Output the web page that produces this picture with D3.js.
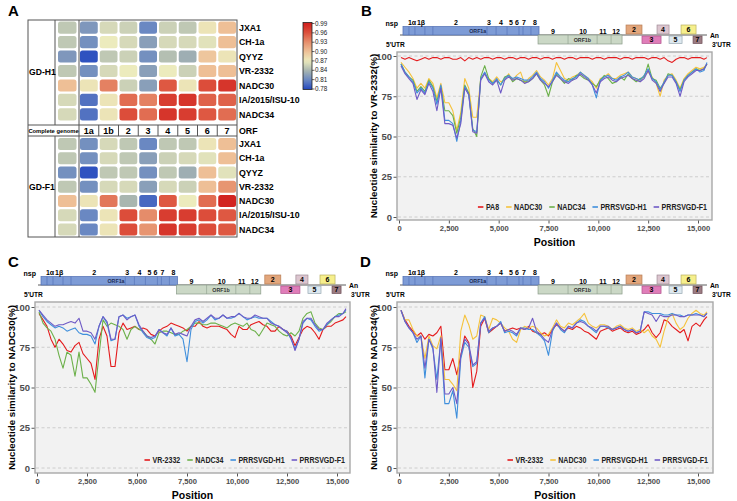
<!DOCTYPE html>
<html>
<head>
<meta charset="utf-8">
<script src="https://cdn.jsdelivr.net/npm/d3@7"></script>
<style>
  body { margin: 0; background: #fff; }
  svg { font-family: Arial, "Liberation Sans", sans-serif; }
</style>
</head>
<body>
<svg id="fig" width="737" height="501"></svg>
<script>
// ---------- heatmap data (panel A) ----------
var strains = ["JXA1", "CH-1a", "QYYZ", "VR-2332", "NADC30", "IA/2015/ISU-10", "NADC34"];
var orfs = ["1a", "1b", "2", "3", "4", "5", "6", "7"];
var h1Genome = [0.85, 0.85, 0.82, 0.85, 0.90, 0.86, 0.86];
var h1Orf = [
  [0.82, 0.86, 0.855, 0.81, 0.855, 0.85, 0.875, 0.90],
  [0.815, 0.87, 0.86, 0.825, 0.86, 0.86, 0.865, 0.90],
  [0.785, 0.85, 0.855, 0.815, 0.845, 0.835, 0.895, 0.875],
  [0.815, 0.86, 0.87, 0.825, 0.87, 0.855, 0.90, 0.90],
  [0.875, 0.935, 0.855, 0.825, 0.955, 0.875, 0.96, 0.975],
  [0.80, 0.875, 0.945, 0.935, 0.97, 0.975, 0.95, 0.95],
  [0.80, 0.875, 0.96, 0.945, 0.975, 0.97, 0.955, 0.945]
];
var f1Genome = [0.85, 0.85, 0.815, 0.85, 0.90, 0.86, 0.86];
var f1Orf = [
  [0.815, 0.86, 0.85, 0.81, 0.85, 0.85, 0.875, 0.90],
  [0.815, 0.86, 0.85, 0.825, 0.855, 0.86, 0.865, 0.90],
  [0.785, 0.85, 0.85, 0.815, 0.85, 0.835, 0.90, 0.865],
  [0.815, 0.86, 0.86, 0.825, 0.86, 0.855, 0.90, 0.925],
  [0.875, 0.94, 0.84, 0.795, 0.955, 0.87, 0.945, 0.985],
  [0.81, 0.875, 0.96, 0.93, 0.97, 0.97, 0.96, 0.955],
  [0.81, 0.875, 0.96, 0.925, 0.975, 0.97, 0.96, 0.955]
];
var legendTicks = [0.99, 0.96, 0.93, 0.90, 0.87, 0.84, 0.81, 0.78];

// ---------- similarity plot data (panels B, C, D) ----------
var positions = [100, 300, 500, 700, 900, 1100, 1300, 1500, 1700, 1900, 2100, 2300, 2500, 2700, 2900, 3100,
  3300, 3500, 3700, 3900, 4100, 4300, 4500, 4700, 4900, 5100, 5300, 5500, 5700, 5900, 6100, 6300, 6500,
  6700, 6900, 7100, 7300, 7500, 7700, 7900, 8100, 8300, 8500, 8700, 8900, 9100, 9300, 9500, 9700, 9900,
  10100, 10300, 10500, 10700, 10900, 11100, 11300, 11500, 11700, 11900, 12100, 12300, 12500, 12700,
  12900, 13100, 13300, 13500, 13700, 13900, 14100, 14300, 14500, 14700, 14900, 15100, 15300, 15450];

var bPA8 = [99, 98, 99, 98, 97, 98, 99, 98, 99, 99, 98, 99, 99, 98, 98, 99, 97, 99, 98, 99, 98, 99, 99, 98, 99, 99,
  98, 99, 99, 98, 99, 99, 98, 99, 99, 98, 99, 99, 98, 99, 99, 98, 99, 99, 98, 99, 99, 99, 98, 99, 99, 98,
  99, 99, 99, 98, 99, 99, 98, 99, 99, 99, 98, 99, 99, 98, 99, 97, 96, 98, 99, 99, 98, 99, 99, 99, 98, 99];
var bNADC30 = [96, 93, 90, 86, 80, 83, 80, 86, 83, 74, 83, 71, 71, 66, 54, 65, 86, 80, 62, 62, 86, 89, 86, 84, 87, 84,
  85, 89, 85, 88, 90, 83, 86, 88, 91, 87, 85, 82, 86, 96, 91, 86, 85, 87, 88, 90, 88, 86, 84, 80, 86, 87,
  89, 86, 86, 88, 89, 90, 87, 86, 84, 88, 90, 87, 83, 75, 85, 88, 89, 85, 80, 86, 89, 91, 93, 92, 93, 95];
var bNADC34 = [95, 90, 87, 85, 78, 81, 78, 85, 81, 72, 81, 66, 66, 63, 52, 62, 82, 77, 55, 50, 87, 94, 86, 83, 85, 82,
  87, 88, 84, 86, 85, 84, 84, 86, 89, 85, 82, 75, 84, 89, 86, 83, 86, 85, 88, 88, 86, 85, 83, 81, 85, 88,
  86, 83, 84, 87, 85, 89, 86, 84, 86, 87, 95, 86, 85, 80, 83, 89, 88, 84, 79, 85, 88, 90, 92, 91, 92, 95];
var bGDH1 = [95, 90, 87, 84, 77, 80, 77, 84, 80, 70, 82, 60, 60, 58, 47, 60, 81, 76, 54, 53, 86, 90, 85, 83, 86, 82,
  86, 88, 86, 87, 86, 85, 85, 87, 90, 86, 84, 80, 85, 90, 87, 85, 84, 86, 87, 90, 88, 86, 82, 74, 85, 87,
  88, 86, 85, 87, 88, 90, 87, 86, 85, 88, 92, 86, 84, 79, 84, 88, 88, 84, 78, 85, 88, 90, 92, 90, 91, 96];
var bGDF1 = [94, 89, 86, 83, 73, 79, 76, 83, 78, 66, 80, 58, 58, 57, 49, 58, 80, 76, 53, 52, 85, 89, 84, 82, 85, 77,
  85, 87, 85, 86, 85, 83, 84, 86, 89, 85, 83, 81, 84, 88, 86, 84, 83, 85, 86, 89, 87, 85, 82, 77, 84, 86,
  87, 85, 84, 86, 87, 88, 86, 85, 84, 86, 91, 85, 83, 78, 83, 87, 87, 83, 75, 84, 87, 89, 91, 91, 92, 95];

var cVR2332 = [96, 92, 88, 80, 75, 80, 77, 73, 72, 76, 78, 71, 68, 65, 55, 80, 88, 82, 63, 63, 84, 90, 86, 87, 88, 86,
  87, 86, 83, 82, 85, 87, 88, 90, 89, 88, 87, 85, 88, 88, 91, 88, 87, 88, 88, 88, 87, 86, 83, 81, 88, 86,
  86, 89, 90, 91, 89, 88, 85, 85, 88, 86, 85, 82, 76, 81, 86, 88, 87, 84, 80, 86, 88, 88, 90, 91, 92, 94];
var cNADC34 = [97, 90, 87, 85, 80, 70, 62, 72, 70, 57, 72, 56, 56, 52, 47, 70, 92, 88, 90, 89, 88, 86, 80, 86, 88, 86,
  85, 82, 80, 77, 84, 85, 85, 84, 83, 83, 85, 86, 88, 90, 90, 89, 89, 90, 90, 89, 88, 87, 89, 90, 89, 88,
  90, 86, 85, 82, 86, 90, 89, 88, 85, 83, 82, 84, 82, 85, 93, 96, 97, 90, 87, 86, 89, 91, 94, 96, 96, 97];
var cGDH1 = [98, 94, 91, 89, 87, 88, 87, 85, 86, 87, 84, 83, 83, 82, 77, 88, 94, 90, 79, 80, 94, 95, 93, 94, 95, 88,
  84, 81, 80, 81, 86, 84, 82, 87, 82, 83, 80, 66, 86, 91, 92, 90, 92, 95, 92, 93, 95, 93, 93, 94, 96, 94,
  92, 93, 94, 93, 93, 93, 91, 89, 88, 86, 85, 80, 74, 80, 90, 93, 92, 88, 85, 86, 89, 92, 94, 95, 96, 98];
var cGDF1 = [98, 95, 92, 90, 88, 89, 89, 90, 91, 90, 93, 85, 85, 84, 80, 88, 94, 91, 80, 80, 94, 95, 92, 94, 95, 89,
  85, 82, 81, 82, 86, 84, 83, 87, 83, 84, 83, 82, 88, 92, 93, 91, 93, 95, 93, 93, 95, 93, 94, 94, 96, 94,
  93, 93, 95, 94, 93, 93, 90, 89, 88, 86, 84, 81, 73, 80, 91, 93, 93, 89, 86, 86, 90, 92, 94, 94, 96, 99];

var dVR2332 = [98, 92, 88, 85, 82, 84, 80, 83, 82, 84, 88, 61, 61, 68, 58, 70, 82, 78, 50, 60, 88, 93, 84, 86, 88, 90,
  85, 86, 87, 86, 87, 86, 88, 85, 84, 83, 84, 82, 86, 89, 87, 85, 87, 86, 88, 87, 85, 84, 82, 80, 85, 86,
  87, 85, 86, 87, 85, 84, 85, 83, 84, 86, 89, 84, 81, 84, 92, 91, 88, 86, 84, 86, 79, 88, 90, 88, 92, 94];
var dNADC30 = [98, 92, 92, 86, 82, 82, 68, 82, 76, 74, 82, 55, 55, 52, 48, 85, 95, 89, 80, 82, 95, 94, 86, 93, 92, 90,
  87, 85, 80, 78, 86, 88, 87, 88, 87, 84, 82, 83, 87, 92, 88, 87, 90, 89, 91, 93, 96, 90, 88, 87, 89, 89,
  88, 86, 88, 89, 87, 86, 87, 85, 86, 84, 86, 82, 80, 75, 85, 93, 96, 90, 86, 88, 93, 96, 98, 96, 95, 97];
var dGDH1 = [98, 91, 87, 84, 78, 82, 56, 80, 74, 55, 80, 40, 40, 48, 31, 68, 78, 75, 63, 65, 90, 94, 84, 87, 88, 91,
  84, 85, 84, 82, 87, 87, 86, 86, 84, 82, 79, 70, 85, 90, 86, 84, 88, 87, 90, 92, 91, 88, 86, 84, 88, 88,
  87, 86, 87, 88, 86, 85, 86, 84, 85, 97, 97, 96, 96, 96, 95, 95, 96, 95, 95, 94, 95, 95, 96, 95, 94, 96];
var dGDF1 = [98, 91, 87, 84, 80, 82, 62, 80, 75, 47, 81, 46, 46, 50, 40, 70, 80, 77, 64, 66, 90, 93, 85, 87, 88, 90,
  85, 86, 85, 83, 87, 86, 87, 93, 85, 83, 80, 78, 86, 90, 87, 85, 88, 87, 90, 91, 90, 88, 87, 85, 88, 88,
  88, 86, 87, 88, 86, 85, 86, 84, 85, 97, 96, 95, 91, 95, 94, 94, 95, 95, 94, 94, 95, 95, 95, 95, 94, 96];

var xTicks = [0, 2500, 5000, 7500, 10000, 12500, 15000];
var yTicks = [0, 25, 50, 75, 100];

// ---------- genome map (nucleotide coordinates as drawn) ----------
var orf1a = [200, 7025];
var orf1aCuts = [500, 800, 1300, 1700, 4415, 4870, 5420, 6020, 6220, 6620];
var orf1b = [6975, 11190];
var orf1bCuts = [8480, 9940, 10640];
var nspTop = [["1\u03b1", 652], ["1\u03b2", 1104], ["2", 2860], ["3", 4515], ["4", 5117], ["5", 5619], ["6", 5920], ["7", 6272], ["8", 6824]];
var nspLow = [["9", 7727], ["10", 9232], ["11", 10236], ["12", 10888]];
var sOrfs = [
  {n: "2", s: 11390, e: 12190, up: true, c: "#e2a67c", k: "#b87d55"},
  {n: "3", s: 12190, e: 13146, up: false, c: "#e07db9", k: "#b0548c"},
  {n: "4", s: 12945, e: 13548, up: true, c: "#dcc5cf", k: "#a08c96"},
  {n: "5", s: 13548, e: 14200, up: false, c: "#dde8ef", k: "#98a8b2"},
  {n: "6", s: 14150, e: 14902, up: true, c: "#f6ef8c", k: "#b8b060"},
  {n: "7", s: 14752, e: 15203, up: false, c: "#9c7c83", k: "#6e5058"}
];

var svg = d3.select("#fig");
var FONT = "Arial, 'Liberation Sans', sans-serif";

function letter(t, x, y) {
  svg.append("text").attr("x", x).attr("y", y).attr("font-size", 15).attr("font-weight", "bold").text(t);
}
letter("A", 8, 16);
letter("B", 361, 16);
letter("C", 8, 267);
letter("D", 360, 267);

// ================= Panel A: heatmap =================
var heatColor = d3.scaleLinear()
  .domain([0.78, 0.81, 0.84, 0.87, 0.90, 0.93, 0.96, 0.99])
  .range(["#2347bf", "#6a88c2", "#a9b6b0", "#ecebbd", "#eebf96", "#e58c6a", "#dc4d3a", "#d01c1b"])
  .clamp(true);

var hm = {left: 28, right: 237, top: 20, bottom: 237, grp: 55, cg: 79, hdrTop: 125, hdrBot: 136};
var xOrf = d3.scaleBand().domain(orfs).range([hm.cg, hm.right]).paddingInner(0.1).paddingOuter(0.05);
var yTop = d3.scaleBand().domain(strains).range([21, 121]).paddingInner(0.16).paddingOuter(0.04);
var yBot = d3.scaleBand().domain(strains).range([137.5, 236]).paddingInner(0.16).paddingOuter(0.04);

var A = svg.append("g");

function heatBlock(yScale, genome, orfVals) {
  A.selectAll(null).data(strains).enter().append("rect")
    .attr("x", 58).attr("width", 18.5)
    .attr("y", function(d) { return yScale(d); })
    .attr("height", yScale.bandwidth())
    .attr("rx", 2.5)
    .attr("fill", function(d, i) { return heatColor(genome[i]); });
  strains.forEach(function(s, i) {
    A.selectAll(null).data(orfVals[i]).enter().append("rect")
      .attr("x", function(d, j) { return xOrf(orfs[j]); })
      .attr("width", xOrf.bandwidth())
      .attr("y", yScale(s))
      .attr("height", yScale.bandwidth())
      .attr("rx", 2.5)
      .attr("fill", function(d) { return heatColor(d); });
  });
  A.selectAll(null).data(strains).enter().append("text")
    .attr("x", 239)
    .attr("y", function(d) { return yScale(d) + yScale.bandwidth() / 2 + 3.2; })
    .attr("font-size", 8.8).attr("font-weight", "bold")
    .text(function(d) { return d; });
}
heatBlock(yTop, h1Genome, h1Orf);
heatBlock(yBot, f1Genome, f1Orf);

var lineCol = "#555";
A.append("rect").attr("x", hm.left).attr("y", hm.top).attr("width", hm.right - hm.left).attr("height", hm.bottom - hm.top)
  .attr("fill", "none").attr("stroke", lineCol).attr("stroke-width", 1);
A.append("line").attr("x1", hm.grp).attr("x2", hm.grp).attr("y1", hm.top).attr("y2", hm.hdrTop).attr("stroke", lineCol);
A.append("line").attr("x1", hm.grp).attr("x2", hm.grp).attr("y1", hm.hdrBot).attr("y2", hm.bottom).attr("stroke", lineCol);
A.append("line").attr("x1", hm.cg).attr("x2", hm.cg).attr("y1", hm.top).attr("y2", hm.bottom).attr("stroke", lineCol);
[hm.hdrTop, hm.hdrBot].forEach(function(yy) {
  A.append("line").attr("x1", hm.left).attr("x2", hm.right).attr("y1", yy).attr("y2", yy).attr("stroke", lineCol);
});
A.selectAll(null).data(orfs.slice(1)).enter().append("line")
  .attr("x1", function(d) { return xOrf(d) - xOrf.step() * xOrf.paddingInner() / 2; })
  .attr("x2", function(d) { return xOrf(d) - xOrf.step() * xOrf.paddingInner() / 2; })
  .attr("y1", hm.hdrTop).attr("y2", hm.hdrBot).attr("stroke", lineCol);
A.selectAll(null).data(orfs).enter().append("text")
  .attr("x", function(d) { return xOrf(d) + xOrf.bandwidth() / 2; })
  .attr("y", 134).attr("text-anchor", "middle").attr("font-size", 9).attr("font-weight", "bold")
  .text(function(d) { return d; });
A.append("text").attr("x", 53.5).attr("y", 132.8).attr("text-anchor", "middle")
  .attr("font-size", 5.8).attr("font-weight", "bold").text("Complete genome");
A.append("text").attr("x", 239).attr("y", 134).attr("font-size", 8.8).attr("font-weight", "bold").text("ORF");
A.append("text").attr("x", 29).attr("y", 74.5).attr("font-size", 8.6).attr("font-weight", "bold").text("GD-H1");
A.append("text").attr("x", 29).attr("y", 189.5).attr("font-size", 8.6).attr("font-weight", "bold").text("GD-F1");

// colour bar
var yLeg = d3.scaleLinear().domain([0.78, 0.99]).range([89, 23.5]);
var grad = svg.append("defs").append("linearGradient").attr("id", "hgrad")
  .attr("x1", 0).attr("x2", 0).attr("y1", 1).attr("y2", 0);
d3.range(0, 1.0001, 0.05).forEach(function(t) {
  grad.append("stop").attr("offset", t).attr("stop-color", heatColor(0.78 + t * 0.21));
});
A.append("rect").attr("x", 303).attr("y", 22.5).attr("width", 9).attr("height", 67)
  .attr("fill", "url(#hgrad)").attr("stroke", "#222").attr("stroke-width", 0.8);
A.selectAll(null).data(legendTicks).enter().append("line")
  .attr("x1", 312).attr("x2", 314.5)
  .attr("y1", function(d) { return yLeg(d); }).attr("y2", function(d) { return yLeg(d); })
  .attr("stroke", "#222").attr("stroke-width", 0.7);
A.selectAll(null).data(legendTicks).enter().append("text")
  .attr("x", 315).attr("y", function(d) { return yLeg(d) + 2.2; })
  .attr("font-size", 6.3).attr("fill", "#222")
  .text(function(d) { return d.toFixed(2); });

// ================= Panels B, C, D =================
var palette = {red: "#e41a1c", yellow: "#f5c23c", green: "#6cb04a", blue: "#3f8fdc", purple: "#6f5bc6"};

function drawGenome(g, x, top) {
  g.append("text").attr("x", x(0) - 1).attr("y", top - 26.5).attr("text-anchor", "end")
    .attr("font-size", 7).attr("font-weight", "bold").text("nsp");
  g.append("text").attr("x", x(0) - 13).attr("y", top - 5).attr("font-size", 6.6).attr("font-weight", "bold").text("5'UTR");
  g.append("line").attr("x1", x(50)).attr("x2", x(15450)).attr("y1", top - 17).attr("y2", top - 17)
    .attr("stroke", "#333").attr("stroke-width", 0.8);
  g.append("text").attr("x", x(15600)).attr("y", top - 14.5).attr("font-size", 6.8).attr("font-weight", "bold").text("An");
  g.append("text").attr("x", x(15700)).attr("y", top - 5).attr("font-size", 6.6).attr("font-weight", "bold").text("3'UTR");

  // ORF1a
  g.append("rect").attr("x", x(orf1a[0])).attr("width", x(orf1a[1]) - x(orf1a[0]))
    .attr("y", top - 25.5).attr("height", 8.5).attr("fill", "#7d9bd6").attr("stroke", "#4f6db3").attr("stroke-width", 0.7);
  g.selectAll(null).data(orf1aCuts).enter().append("line")
    .attr("x1", function(d) { return x(d); }).attr("x2", function(d) { return x(d); })
    .attr("y1", top - 25.5).attr("y2", top - 17).attr("stroke", "#4f6db3").attr("stroke-width", 0.6);
  g.append("text").attr("x", x(3950)).attr("y", top - 19).attr("text-anchor", "middle")
    .attr("font-size", 5.3).attr("font-weight", "bold").attr("fill", "#1e2d55").text("ORF1a");
  // ORF1b
  g.append("rect").attr("x", x(orf1b[0])).attr("width", x(orf1b[1]) - x(orf1b[0]))
    .attr("y", top - 17).attr("height", 9).attr("fill", "#cbd8c6").attr("stroke", "#8b9c89").attr("stroke-width", 0.7);
  g.selectAll(null).data(orf1bCuts).enter().append("line")
    .attr("x1", function(d) { return x(d); }).attr("x2", function(d) { return x(d); })
    .attr("y1", top - 17).attr("y2", top - 8).attr("stroke", "#8b9c89").attr("stroke-width", 0.6);
  g.append("text").attr("x", x(9200)).attr("y", top - 10.5).attr("text-anchor", "middle")
    .attr("font-size", 5.3).attr("font-weight", "bold").attr("fill", "#333").text("ORF1b");

  g.selectAll(null).data(nspTop).enter().append("text")
    .attr("x", function(d) { return x(d[1]); }).attr("y", top - 27)
    .attr("text-anchor", "middle").attr("font-size", 7).attr("font-weight", "bold")
    .text(function(d) { return d[0]; });
  g.selectAll(null).data(nspLow).enter().append("text")
    .attr("x", function(d) { return x(d[1]); }).attr("y", top - 18.5)
    .attr("text-anchor", "middle").attr("font-size", 7).attr("font-weight", "bold")
    .text(function(d) { return d[0]; });

  g.selectAll(null).data(sOrfs).enter().append("rect")
    .attr("x", function(d) { return x(d.s); })
    .attr("width", function(d) { return x(d.e) - x(d.s); })
    .attr("y", function(d) { return d.up ? top - 27 : top - 16; })
    .attr("height", function(d) { return d.up ? 9 : 7.5; })
    .attr("fill", function(d) { return d.c; })
    .attr("stroke", function(d) { return d.k; }).attr("stroke-width", 0.7);
  g.selectAll(null).data(sOrfs).enter().append("text")
    .attr("x", function(d) { return (x(d.s) + x(d.e)) / 2; })
    .attr("y", function(d) { return d.up ? top - 19.8 : top - 9.6; })
    .attr("text-anchor", "middle").attr("font-size", 7).attr("font-weight", "bold")
    .text(function(d) { return d.n; });
}

function drawPanel(p) {
  var x = d3.scaleLinear().domain([0, 15000]).range(p.xr);
  var y = d3.scaleLinear().domain([0, 100]).range(p.yr);
  var g = svg.append("g");

  g.append("rect").attr("x", p.left).attr("y", p.top)
    .attr("width", p.right - p.left).attr("height", p.bottom - p.top)
    .attr("fill", "#f2f2f2").attr("stroke", "#a8a8a8").attr("stroke-width", 1.4);

  g.selectAll(null).data(yTicks).enter().append("line")
    .attr("x1", p.left + 1).attr("x2", p.right - 1)
    .attr("y1", function(d) { return y(d); }).attr("y2", function(d) { return y(d); })
    .attr("stroke", "#c4c4c4").attr("stroke-width", 0.8).attr("stroke-dasharray", "3,2.5");

  var ya = g.append("g").attr("transform", "translate(" + (p.left - 0.5) + ",0)")
    .call(d3.axisLeft(y).tickValues(yTicks).tickSize(3).tickPadding(1.5));
  ya.select(".domain").remove();
  ya.attr("font-family", FONT);
  ya.selectAll("line").attr("stroke", "#555");
  ya.selectAll("text").attr("font-size", 9.5).attr("font-weight", "bold").attr("fill", "#4d4d4d");

  var xa = g.append("g").attr("transform", "translate(0," + (p.bottom + 0.5) + ")")
    .call(d3.axisBottom(x).tickValues(xTicks).tickSize(3).tickPadding(2).tickFormat(d3.format(",")));
  xa.select(".domain").remove();
  xa.attr("font-family", FONT);
  xa.selectAll("line").attr("stroke", "#555");
  xa.selectAll("text").attr("font-size", 7.6).attr("font-weight", "bold").attr("fill", "#4d4d4d");

  g.append("text").attr("x", (p.left + p.right) / 2).attr("y", p.bottom + 26)
    .attr("text-anchor", "middle").attr("font-size", 10.5).attr("font-weight", "bold").text("Position");
  g.append("text")
    .attr("transform", "translate(" + (p.left - 20) + "," + ((p.top + p.bottom) / 2) + ") rotate(-90)")
    .attr("text-anchor", "middle").attr("font-size", 9.8).attr("font-weight", "bold").text(p.title);

  var line = d3.line()
    .x(function(d, i) { return x(positions[i]); })
    .y(function(d) { return y(d); });
  p.series.forEach(function(s) {
    g.append("path").datum(s.values)
      .attr("fill", "none").attr("stroke", s.color).attr("stroke-width", 1.1)
      .attr("stroke-linejoin", "round").attr("d", line);
  });

  // legend, right aligned along bottom of the panel (text slightly condensed like the original)
  var lg = g.append("g");
  var cur = p.right - 5, ly = p.bottom - 10;
  p.series.slice().reverse().forEach(function(s) {
    var t = lg.append("text").attr("x", cur).attr("y", ly).attr("text-anchor", "end")
      .attr("font-size", 8.2).attr("font-weight", "bold").attr("fill", "#222").text(s.name);
    var w = t.node().getComputedTextLength() * 0.86;
    t.attr("textLength", w).attr("lengthAdjust", "spacingAndGlyphs");
    lg.append("line").attr("x1", cur - w - 8).attr("x2", cur - w - 2.5)
      .attr("y1", ly - 3).attr("y2", ly - 3).attr("stroke", s.color).attr("stroke-width", 1.6);
    cur = cur - w - 8 - 7;
  });

  drawGenome(g, x, p.top);
}

drawPanel({
  left: 397, right: 712, top: 52, bottom: 220, xr: [399, 698], yr: [217, 56],
  title: "Nucleotide similarity to VR-2332(%)",
  series: [
    {name: "PA8", values: bPA8, color: palette.red},
    {name: "NADC30", values: bNADC30, color: palette.yellow},
    {name: "NADC34", values: bNADC34, color: palette.green},
    {name: "PRRSVGD-H1", values: bGDH1, color: palette.blue},
    {name: "PRRSVGD-F1", values: bGDF1, color: palette.purple}
  ]
});
drawPanel({
  left: 35, right: 350, top: 302, bottom: 473, xr: [37, 337], yr: [468, 307],
  title: "Nucleotide similarity to NADC30(%)",
  series: [
    {name: "VR-2332", values: cVR2332, color: palette.red},
    {name: "NADC34", values: cNADC34, color: palette.green},
    {name: "PRRSVGD-H1", values: cGDH1, color: palette.blue},
    {name: "PRRSVGD-F1", values: cGDF1, color: palette.purple}
  ]
});
drawPanel({
  left: 397, right: 713, top: 302, bottom: 473, xr: [399, 698], yr: [468, 307],
  title: "Nucleotide similarity to NADC34(%)",
  series: [
    {name: "VR-2332", values: dVR2332, color: palette.red},
    {name: "NADC30", values: dNADC30, color: palette.yellow},
    {name: "PRRSVGD-H1", values: dGDH1, color: palette.blue},
    {name: "PRRSVGD-F1", values: dGDF1, color: palette.purple}
  ]
});
</script>
</body>
</html>
